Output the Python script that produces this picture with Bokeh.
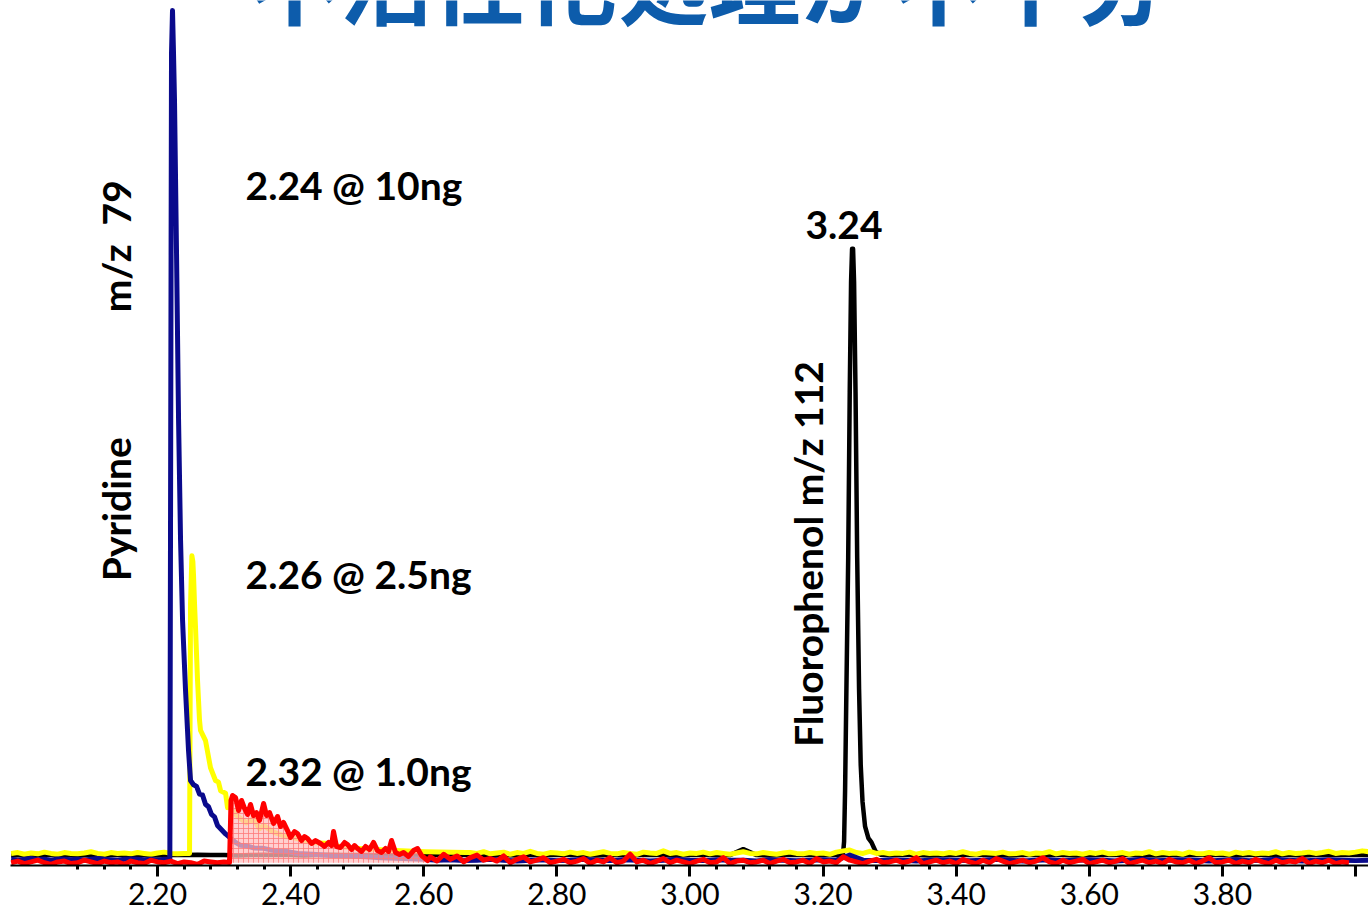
import math
from bokeh.plotting import figure
from bokeh.models import Label, FixedTicker, Range1d
from bokeh.embed import file_html
from bokeh.resources import INLINE

# ---------------- data (retention time in min, relative abundance) ----------------
def grid(start, step, n):
    return [round(start + step * i, 4) for i in range(n)]

# Red trace (1.0 ng)
red_pre_v = [-0.5, -0.3, -0.6, -0.4, -0.2, -0.5, -0.7, -0.4, -0.3, -0.6, -0.5,
             -0.2, -0.4, -0.6, -0.3, -0.5, -0.4, -0.7, -0.3, -0.5, -0.6, -0.2,
             -0.4, -0.5, -0.3, -0.6, -0.4, -0.5, -0.7, -0.3, -0.4, -0.5, -0.4]
red_peak_t = [2.3082, 2.3104, 2.3127, 2.3172, 2.3217, 2.3262, 2.3307, 2.3352, 2.3397,
              2.3442, 2.3487, 2.3532, 2.3593, 2.3638, 2.3683, 2.3743, 2.3803, 2.3848,
              2.3893, 2.3953, 2.3998, 2.4058, 2.4103, 2.4163, 2.4209, 2.4254, 2.4314,
              2.4374, 2.4449, 2.4509, 2.4569, 2.4614, 2.4644, 2.4689, 2.4749, 2.4810,
              2.4855, 2.4915, 2.4960, 2.5005, 2.5065, 2.5125, 2.5185, 2.5245, 2.5305,
              2.5365, 2.5425, 2.5471, 2.5516, 2.5576, 2.5636, 2.5696, 2.5771, 2.5846,
              2.5906, 2.5967, 2.6057]
red_peak_v = [-0.47, 6.84, 7.43, 7.19, 5.66, 6.84, 5.90, 5.19, 6.37,
              5.07, 5.42, 4.48, 6.49, 5.07, 5.42, 4.13, 4.95, 3.77,
              4.25, 3.30, 2.48, 3.18, 2.95, 2.12, 2.59, 2.36, 1.77,
              2.12, 1.77, 1.42, 1.89, 1.53, 3.18, 1.42, 1.30, 1.89,
              1.65, 1.06, 1.53, 1.18, 0.83, 1.42, 1.06, 1.89, 0.94,
              0.71, 1.18, 0.83, 2.12, 0.71, 0.47, 0.71, 0.24, 0.94,
              1.18, 0.35, -0.24]
red_post_v = [0.2, -0.3, 0.5, -0.1, 0.3, -0.4, 0.1, 0.4, -0.2, 0.0,
              -0.3, 0.3, -0.5, -0.1, 0.2, -0.4, -0.2, 0.1, -0.5, -0.3,
              -0.1, -0.5, -0.3, 0.0, -0.6, -0.2, -0.4, 0.1, -0.5, -0.3,
              0.5, -0.4, -0.2, -0.6, -0.3, 0.0, -0.5, -0.2, -0.4, -0.6,
              -0.3, -0.1, -0.5, -0.4, 0.1, -0.6, -0.3, -0.2, -0.5, -0.4,
              -0.2, -0.6, -0.3, -0.1, -0.5, -0.4, -0.2, -0.6, 0.0, -0.4,
              -0.3, -0.5, 0.2, -0.2, -0.4, -0.6, -0.3, -0.1, -0.5, -0.4,
              -0.2, -0.5, -0.3, 0.1, -0.6, -0.4, -0.2, -0.5, -0.3, -0.6,
              -0.1, -0.4, -0.6, -0.2, -0.5, 0.0, -0.3, -0.6, -0.4, -0.2,
              -0.5, -0.3, 0.1, -0.4, -0.6, -0.2, -0.5, -0.3, -0.1, -0.6,
              -0.4, -0.2, -0.5, -0.3, 0.0, -0.6, -0.4, -0.2, -0.5, -0.3,
              -0.6, -0.1, -0.4, -0.5, -0.2, -0.6, -0.3, 0.1, -0.5, -0.4,
              -0.2, -0.6, -0.3, -0.5, -0.1, -0.4, -0.6, -0.2, -0.5, -0.3,
              -0.4, 0.0, -0.6, -0.3, -0.5, -0.2, -0.6, -0.4, -0.5]

# Blue trace (10 ng)
blue_pre_v = [-0.1, -0.2, -0.1, 0.0, -0.15, -0.1, -0.2, -0.05, -0.1, -0.15, -0.1, -0.2,
              -0.1, 0.0, -0.1, -0.15, -0.2, -0.1, -0.05, -0.1, -0.15, -0.1, -0.2, -0.1]
blue_peak_t = [2.2185, 2.2198, 2.2210, 2.2225, 2.2240, 2.2255, 2.2285, 2.2316, 2.2346,
               2.2376, 2.2421, 2.2466, 2.2496, 2.2541, 2.2586, 2.2631, 2.2676, 2.2721,
               2.2766, 2.2811, 2.2856, 2.2901, 2.2962, 2.3022, 2.3097, 2.3172, 2.3247,
               2.3337, 2.3442, 2.3593, 2.3773, 2.3923, 2.4103, 2.4329, 2.4599, 2.4900,
               2.5125, 2.5350, 2.5700, 2.6000]
blue_peak_v = [-0.1, 50.0, 95.0, 100.0, 95.0, 89.4, 71.7, 51.7, 37.5,
               28.1, 19.8, 12.7, 9.2, 8.7, 8.5, 7.6, 7.5, 6.4,
               6.1, 5.2, 4.9, 3.9, 3.4, 2.9, 2.4, 1.9, 1.55,
               1.5, 1.25, 1.2, 0.9, 0.85, 0.6, 0.5, 0.35, 0.3,
               0.2, 0.1, 0.0, -0.1]
blue_post_v = [-0.2, -0.15, -0.25, -0.2, -0.1, -0.2, -0.3, -0.2, -0.15, -0.25,
               -0.2, -0.1, -0.2, -0.25, -0.15, -0.2, -0.3, -0.2, -0.1, -0.2,
               -0.25, -0.15, -0.2, -0.2, -0.3, -0.15, -0.2, -0.25, -0.2, -0.15,
               -0.2, 0.4, -0.2, -0.25, -0.15, -0.2, -0.3, -0.2, -0.15, -0.2,
               -0.25, -0.2, -0.1, -0.2, -0.3, -0.2, -0.15, -0.25, -0.2, -0.15,
               -0.2, -0.3, -0.2, -0.1, -0.25, -0.2, -0.15, -0.2, -0.3, -0.2,
               -0.15, -0.25, -0.2, -0.1, -0.2, -0.3, -0.2, -0.15, -0.2, -0.25,
               -0.2]

# Yellow trace (2.5 ng)
yellow_pre_v = [0.6, 0.7, 0.5, 0.65, 0.55, 0.75, 0.6, 0.5, 0.7, 0.6, 0.55, 0.65, 0.8, 0.6,
                0.5, 0.7, 0.6, 0.65, 0.55, 0.7, 0.6, 0.5, 0.65, 0.75, 0.6, 0.55, 0.6]
yellow_peak_t = [2.2481, 2.2496, 2.2516, 2.2531, 2.2541, 2.2556, 2.2571, 2.2601, 2.2631,
                 2.2646, 2.2721, 2.2796, 2.2871, 2.2916, 2.2947, 2.3022, 2.3052, 2.3082,
                 2.3127, 2.3187, 2.3247, 2.3337, 2.3442, 2.3532, 2.3593, 2.3743, 2.3923,
                 2.4073, 2.4299, 2.4524, 2.4749, 2.4975, 2.5275, 2.5576, 2.6027, 2.6628]
yellow_peak_v = [0.6, 30.0, 35.7, 35.0, 33.4, 30.0, 27.2, 21.0, 16.3,
                 15.1, 13.9, 10.7, 9.2, 9.0, 8.0, 7.7, 6.0, 6.1,
                 5.7, 5.1, 4.7, 4.2, 4.7, 3.5, 3.9, 3.1, 2.6,
                 2.4, 1.9, 1.8, 1.4, 1.2, 1.06, 0.94, 0.8, 0.7]
yellow_post_v = [0.7, 0.6, 0.8, 0.55, 0.65, 0.75, 0.5, 0.7, 0.6, 0.85,
                 0.6, 0.5, 0.7, 0.65, 0.55, 0.75, 0.6, 0.7, 0.5, 0.65,
                 0.8, 0.6, 0.55, 0.7, 0.6, 0.5, 0.75, 0.65, 0.6, 0.9,
                 0.6, 0.7, 0.5, 0.65, 0.6, 0.75, 0.55, 0.7, 0.6, 0.5,
                 0.65, 0.8, 0.6, 0.55, 0.7, 0.6, 0.5, 0.65, 0.75, 0.6,
                 0.55, 0.7, 0.6, 0.65, 0.5, 0.75, 0.9, 1.0, 0.7, 0.6,
                 0.85, 0.6, 0.7, 0.55, 0.65, 0.6, 0.75, 0.5, 0.7, 0.6,
                 0.65, 0.55, 0.7, 0.6, 0.8, 0.6, 0.5, 0.7, 0.65, 0.6,
                 0.75, 0.55, 0.6, 0.7, 0.5, 0.65, 0.6, 0.8, 0.55, 0.7,
                 0.6, 0.65, 0.5, 0.7, 0.6, 0.75, 0.55, 0.6, 0.7, 0.5,
                 0.65, 0.6, 0.8, 0.55, 0.7, 0.6, 0.65, 0.5, 0.75, 0.6,
                 0.55, 0.7, 0.6, 0.65, 0.5, 0.75, 0.6, 0.7, 0.55, 0.65,
                 0.6, 0.8, 0.55, 0.7, 0.6, 0.65, 0.75, 0.6, 0.7, 0.85,
                 0.6, 0.7, 0.65, 0.75, 0.9, 0.8]

# Black trace (Fluorophenol m/z 112)
black_pre_v = [0.35, 0.4, 0.4, 0.45, 0.4, 0.35, 0.4, 0.4, 0.45, 0.4,
               0.4, 0.35, 0.4, 0.4, 0.45, 0.4, 0.4, 0.35, 0.4, 0.45,
               0.4, 0.4, 0.35, 0.4, 0.45, 0.4, 0.4, 0.4, 0.35, 0.4,
               0.45, 0.4, 0.4, 0.35, 0.4, 0.4, 0.45, 0.4, 0.35, 0.4,
               0.4, 0.45, 0.4, 0.4, 0.35, 0.4, 0.4, 0.45, 0.4, 0.4,
               0.35, 0.4, 0.45, 0.4, 0.4, 1.1, 0.4, 0.35, 0.4, 0.45,
               0.4, 0.4, 0.4]
black_peak_t = [3.2232, 3.2300, 3.2315, 3.2330, 3.2350, 3.2377, 3.2400, 3.2420, 3.2435,
                3.2450, 3.2465, 3.2487, 3.2512, 3.2540, 3.2565, 3.2592, 3.2630, 3.2680,
                3.2727, 3.2790, 3.2862]
black_peak_v = [0.4, 0.6, 2.0, 8.0, 20.0, 35.5, 55.0, 68.0, 71.9,
                71.9, 68.0, 55.0, 35.5, 20.0, 11.0, 6.7, 3.8, 2.4,
                1.9, 0.8, 0.45]
black_post_v = [0.4, 0.45, 0.4, 0.35, 0.4, 0.4, 0.45, 0.4, 0.4, 0.35,
                0.4, 0.45, 0.4, 0.4, 0.35, 0.4, 0.4, 0.45, 0.4, 0.4,
                0.35, 0.4, 0.4, 0.45, 0.4, 0.4, 0.35, 0.4, 0.45, 0.4,
                0.4, 0.35, 0.4, 0.4, 0.45, 0.4, 0.4]

tick_values = [2.2, 2.4, 2.6, 2.8, 3.0, 3.2, 3.4, 3.6, 3.8, 4.0]
tick_labels = ["2.20", "2.40", "2.60", "2.80", "3.00", "3.20", "3.40", "3.60", "3.80", ""]
minor_tick_values = [2.08, 2.12, 2.16, 2.24, 2.28, 2.32, 2.36, 2.44, 2.48, 2.52, 2.56,
                     2.64, 2.68, 2.72, 2.76, 2.84, 2.88, 2.92, 2.96, 3.04, 3.08, 3.12,
                     3.16, 3.24, 3.28, 3.32, 3.36, 3.44, 3.48, 3.52, 3.56, 3.64, 3.68,
                     3.72, 3.76, 3.84, 3.88, 3.92, 3.96]

# ---------------- assemble traces ----------------
red_t = grid(1.98, 0.01, len(red_pre_v)) + red_peak_t + grid(2.61, 0.01, len(red_post_v))
red_v = red_pre_v + red_peak_v + red_post_v
blue_t = grid(1.98, 0.01, len(blue_pre_v)) + blue_peak_t + grid(2.62, 0.02, len(blue_post_v))
blue_v = blue_pre_v + blue_peak_v + blue_post_v
yellow_t = grid(1.98, 0.01, len(yellow_pre_v)) + yellow_peak_t + grid(2.67, 0.01, len(yellow_post_v))
yellow_v = yellow_pre_v + yellow_peak_v + yellow_post_v
black_t = grid(1.98, 0.02, len(black_pre_v)) + black_peak_t + grid(3.30, 0.02, len(black_post_v))
black_v = black_pre_v + black_peak_v + black_post_v

# ---------------- figure ----------------
p = figure(width=1368, height=913, output_backend="svg", toolbar_location=None,
           x_range=Range1d(1.9791, 4.0194), y_range=Range1d(-0.825, 101.18),
           y_axis_location=None, min_border_left=10, min_border_right=0,
           min_border_top=0, min_border_bottom=48)
p.outline_line_color = None
p.xgrid.visible = False
p.ygrid.visible = False
p.background_fill_color = "white"
p.border_fill_color = "white"

xa = p.xaxis[0]
xa.ticker = FixedTicker(ticks=tick_values, minor_ticks=minor_tick_values)
xa.major_label_overrides = {v: s for v, s in zip(tick_values, tick_labels)}
xa.axis_line_color = "black"
xa.axis_line_width = 2
xa.major_tick_line_width = 3
xa.minor_tick_line_width = 3
xa.major_tick_in = 0
xa.major_tick_out = 11
xa.minor_tick_in = 0
xa.minor_tick_out = 4
xa.major_label_standoff = 6
xa.major_label_text_font = "Lato"
xa.major_label_text_font_size = "30px"
xa.major_label_text_color = "black"

lw = 5
p.line(black_t, black_v, line_color="black", line_width=4.5, line_join="round")
p.line(yellow_t, yellow_v, line_color="#FFFF00", line_width=lw, line_join="round")
p.line(blue_t, blue_v, line_color="#0A0A8C", line_width=lw, line_join="round")
p.varea(x=red_peak_t, y1=-0.5, y2=red_peak_v, fill_color="#FFC0C0", fill_alpha=0.75,
        hatch_pattern="+", hatch_color="#FF7A7A", hatch_scale=5, hatch_weight=1, hatch_alpha=0.8)
p.line(red_t, red_v, line_color="#FF0000", line_width=lw, line_join="round")

def lab(x, y, text, size="39px", angle=0.0, align="left", baseline="middle",
        font="Lato", color="black", style="bold"):
    p.add_layout(Label(x=x, y=y, text=text, text_font=font, text_font_size=size,
                       text_font_style=style, text_color=color, angle=angle,
                       text_align=align, text_baseline=baseline))

lab(2.3322, 79.4, "2.24 @ 10ng")
lab(2.3322, 33.6, "2.26 @ 2.5ng")
lab(2.3322, 10.26, "2.32 @ 1.0ng")
lab(3.2313, 74.65, "3.24", align="center")
lab(2.1369, 41.2, "Pyridine", angle=math.pi / 2, align="center")
lab(2.1369, 72.2, "m/z\u00a0 79", angle=math.pi / 2, align="center")
lab(3.178, 35.9, "Fluorophenol m/z 112", angle=math.pi / 2, align="center")
# title: only its lower part is visible at the top edge, as in the reference
lab(3.0278, 103.9, "不活性化処理が不十分", size="92px", align="center",
    baseline="alphabetic", font="Noto Sans CJK JP", color="#0D5CAB")

open("out.html", "w").write(file_html(p, INLINE))
